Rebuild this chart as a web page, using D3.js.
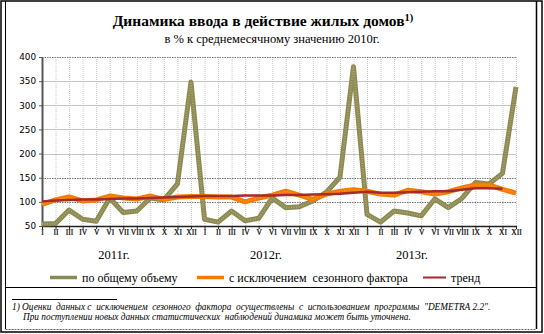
<!DOCTYPE html>
<html><head><meta charset="utf-8">
<script src="https://cdn.jsdelivr.net/npm/d3@7"></script>
<style>body{margin:0;background:#fff}svg{display:block}</style>
</head><body>
<svg id="c" width="544" height="334"></svg>
<script>
const months = ["I","II","III","IV","V","VI","VII","VIII","IX","X","XI","XII"];
const years = ["2011г.","2012г.","2013г."];
const categories = [].concat(months, months, months);
const total = [54,55,83,64,60,108,78,81,108,104,137,348, 64,58,81,61,66,108,88,90,102,120,151,380, 74,58,81,77,71,106,88,107,140,137,159,338];
const seasonal = [95,104,110,102,104,112,108,106,112,105,110,111, 111,110,110,100,108,114,122,114,105,116,122,125, 122,116,114,124,121,116,121,129,135,135,126,118];
const trend = [101,103,104,105,105,106,107,107,108,109,110,111, 112,112,112,113,113,113,114,114,115,116,117,119, 121,119,119,120,121,122,122,125,128,128,127,null];
const yTicks = [50,100,150,200,250,300,350,400];
const seriesNames = ["по общему объему","с исключением  сезонного фактора","тренд"];

const svg = d3.select("#c");
const serif = "'Liberation Serif','Times New Roman',serif";
const sans = "'DejaVu Sans',Verdana,sans-serif";

// frame
svg.append("rect").attr("x",1).attr("y",1).attr("width",541).attr("height",331).attr("fill","none").attr("stroke","#000").attr("stroke-width",1.5);
svg.append("line").attr("x1",5.5).attr("x2",5.5).attr("y1",1).attr("y2",329).attr("stroke","#000");
svg.append("line").attr("x1",536.5).attr("x2",536.5).attr("y1",1).attr("y2",329).attr("stroke","#000").attr("stroke-width",1.5);
svg.append("line").attr("x1",5.5).attr("x2",536.5).attr("y1",329.5).attr("y2",329.5).attr("stroke","#666").attr("stroke-dasharray","2,1");
svg.append("line").attr("x1",5.5).attr("x2",536.5).attr("y1",287.5).attr("y2",287.5).attr("stroke","#000");

// title
const t = svg.append("text").attr("x",263).attr("y",26).attr("text-anchor","middle")
  .attr("font-family",serif).attr("font-size",15.5).attr("font-weight","bold").attr("fill","#000");
t.append("tspan").text("Динамика  ввода в действие жилых домов");
t.append("tspan").attr("dy",-5).attr("font-size",10.5).text("1)");
svg.append("text").attr("x",272).attr("y",43).attr("text-anchor","middle")
  .attr("font-family",serif).attr("font-size",12.5).attr("fill","#000")
  .text("в % к среднемесячному значению 2010г.");

const x = d3.scalePoint().domain(d3.range(categories.length)).range([42,516]);
const y = d3.scaleLinear().domain([50,400]).range([226,57]);

// grid
const g = svg.append("g");
g.selectAll("line.v").data(d3.range(1,categories.length)).join("line")
  .attr("x1",d=>x(d)+0.5).attr("x2",d=>x(d)+0.5).attr("y1",57).attr("y2",226)
  .attr("stroke","#c8c8c8").attr("stroke-dasharray","1,1");
g.selectAll("line.h").data(yTicks.filter(v=>v>50)).join("line")
  .attr("x1",42).attr("x2",516).attr("y1",d=>Math.round(y(d))+0.5).attr("y2",d=>Math.round(y(d))+0.5)
  .attr("stroke",d=>(d===100||d===150||d===400)?"#777":"#c4c4c4")
  .attr("stroke-width",d=>(d===100||d===150||d===400)?1:1.2)
  .attr("stroke-dasharray",d=>(d===100||d===150||d===400)?"1.5,1":null);

// axes
const ya = svg.append("g").attr("transform","translate(42,0)")
  .call(d3.axisLeft(y).tickValues(yTicks).tickSize(3).tickSizeOuter(0));
ya.select(".domain").attr("stroke","#555").attr("stroke-width",2);
ya.selectAll(".tick line").attr("stroke","#555");
ya.selectAll("text").attr("font-family",sans).attr("font-size",8.8).attr("fill","#000").attr("x",-6);

const xa = svg.append("g").attr("transform","translate(0,226)")
  .call(d3.axisBottom(x).tickFormat(i=>categories[i]).tickSize(3).tickSizeOuter(0));
xa.select(".domain").attr("stroke","#222").attr("stroke-width",1.5);
xa.selectAll(".tick line").attr("stroke","#222");
xa.selectAll("text").attr("font-family",serif).attr("font-size",7.5).attr("fill","#000")
  .attr("stroke","#000").attr("stroke-width",0.2).attr("dy","0.6em").attr("y",4);

// year labels
const yearX = [114,266,412];
svg.selectAll("text.yr").data(years).join("text").attr("class","yr")
  .attr("x",(d,i)=>yearX[i]).attr("y",259).attr("text-anchor","middle")
  .attr("font-family",serif).attr("font-size",12.5).attr("fill","#000").text(d=>d);

// lines
const line = d3.line().defined(d=>d!=null).x((d,i)=>x(i)).y(d=>y(d));
svg.append("path").datum(total).attr("d",line).attr("fill","none")
  .attr("stroke","#8a8a52").attr("stroke-width",5).attr("stroke-linejoin","round");
svg.append("path").datum(total).attr("d",line).attr("fill","none")
  .attr("stroke","#b0a670").attr("stroke-width",2).attr("stroke-dasharray","1,1.5").attr("stroke-linejoin","round");
svg.append("path").datum(seasonal).attr("d",line).attr("fill","none")
  .attr("stroke","#f47a00").attr("stroke-width",5).attr("stroke-linejoin","round");
svg.append("path").datum(seasonal).attr("d",line).attr("fill","none")
  .attr("stroke","#fa9a30").attr("stroke-width",1.5).attr("stroke-dasharray","1,1.5");
svg.append("path").datum(trend).attr("d",line).attr("fill","none")
  .attr("stroke","#a52a2a").attr("stroke-width",2.5).attr("stroke-linejoin","round");

// legend
const leg = [
  {x1:50,x2:77,tx:82,c:"#8a8a52",w:3.5},
  {x1:197,x2:224,tx:229,c:"#f47a00",w:3.5},
  {x1:423,x2:446,tx:451,c:"#a52a2a",w:2}
];
leg.forEach((l,i)=>{
  svg.append("line").attr("x1",l.x1).attr("x2",l.x2).attr("y1",277.5).attr("y2",277.5)
    .attr("stroke",l.c).attr("stroke-width",l.w);
  svg.append("text").attr("x",l.tx).attr("y",282).attr("font-family",serif).attr("font-size",12)
    .attr("fill","#000").style("white-space","pre").text(seriesNames[i]);
});

// footnote
svg.append("line").attr("x1",12).attr("x2",117).attr("y1",299.5).attr("y2",299.5).attr("stroke","#000");
svg.append("text").attr("x",12).attr("y",309.5).attr("font-family",serif).attr("font-style","italic")
  .attr("font-size",9.3).attr("fill","#000").style("white-space","pre")
  .text('1) Оценки  данных с  исключением  сезонного  фактора  осуществлены  с  использованием  программы  "DEMETRA 2.2".');
svg.append("text").attr("x",23).attr("y",320).attr("font-family",serif).attr("font-style","italic")
  .attr("font-size",9.3).attr("fill","#000").style("white-space","pre")
  .text('При поступлении новых данных статистических  наблюдений динамика может быть уточнена.');
</script>
</body></html>
